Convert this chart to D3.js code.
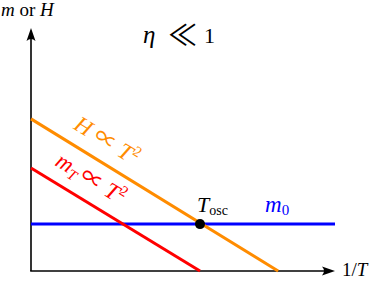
<!DOCTYPE html>
<html><head><meta charset="utf-8">
<script src="https://cdn.jsdelivr.net/npm/d3@7"></script>
<style>html,body{margin:0;padding:0;background:#fff;}svg{display:block;}</style>
</head><body>
<script>
// Data (schematic units: x = 1/T, y = m or H)
const xDomain = [0, 10];
const yDomain = [0, 10];
const hubbleLine = [[0, 6.26], [8.13, 0]];     // H ∝ T^2
const thermalMassLine = [[0, 4.24], [5.56, 0]]; // m_T ∝ T^2
const bareMassLine = [[0, 1.93], [10, 1.93]];  // m_0
const oscPoint = [5.56, 1.93];                 // T_osc

const W = 374, H = 285;
const svg = d3.select("body").append("svg").attr("width", W).attr("height", H);
const x = d3.scaleLinear().domain(xDomain).range([31, 335]);
const y = d3.scaleLinear().domain(yDomain).range([271, 28]);
const line = d3.line().x(d => x(d[0])).y(d => y(d[1]));
const serif = "'Liberation Serif','DejaVu Serif',serif";
const sym = "'Noto Sans CJK JP','DejaVu Serif',serif";

// axes
svg.append("line").attr("x1", x(0)).attr("y1", y(0)).attr("x2", x(0)).attr("y2", y(10) + 6)
  .attr("stroke", "#000").attr("stroke-width", 1.6);
svg.append("line").attr("x1", x(0) - 0.8).attr("y1", y(0)).attr("x2", x(10) - 6).attr("y2", y(0))
  .attr("stroke", "#000").attr("stroke-width", 1.6);
const ax = x(0), ay = y(10);
svg.append("path").attr("d", `M${ax},${ay} L${ax-4.5},${ay+13} Q${ax},${ay+9} ${ax+4.5},${ay+13} Z`).attr("fill", "#000");
const bx = x(10), by = y(0);
svg.append("path").attr("d", `M${bx},${by} L${bx-13},${by-4.5} Q${bx-9},${by} ${bx-13},${by+4.5} Z`).attr("fill", "#000");

// lines
svg.append("path").attr("d", line(bareMassLine)).attr("stroke", "#0000ff").attr("stroke-width", 3).attr("fill", "none");
svg.append("path").attr("d", line(thermalMassLine)).attr("stroke", "#ff0000").attr("stroke-width", 3).attr("fill", "none");
svg.append("path").attr("d", line(hubbleLine)).attr("stroke", "#ff8c00").attr("stroke-width", 3).attr("fill", "none");
svg.append("circle").attr("cx", x(oscPoint[0])).attr("cy", y(oscPoint[1])).attr("r", 5).attr("fill", "#000");

const ang = l => Math.atan2(y(l[1][1]) - y(l[0][1]), x(l[1][0]) - x(l[0][0])) * 180 / Math.PI;

const tH = svg.append("text").attr("transform", `translate(103,147) rotate(${ang(hubbleLine)})`)
  .attr("text-anchor", "middle").attr("fill", "#ff8c00")
  .attr("font-family", serif).attr("font-size", 23);
tH.append("tspan").attr("font-style", "italic").text("H ");
tH.append("tspan").attr("font-family", sym).attr("font-size", 23).text("∝");
tH.append("tspan").attr("font-style", "italic").text(" T");
tH.append("tspan").attr("font-size", 15).attr("dy", "-0.6em").text("2");

const tM = svg.append("text").attr("transform", `translate(87,185) rotate(${ang(thermalMassLine)})`)
  .attr("text-anchor", "middle").attr("fill", "#ff0000")
  .attr("font-family", serif).attr("font-size", 23);
tM.append("tspan").attr("font-style", "italic").text("m");
tM.append("tspan").attr("font-style", "italic").attr("font-size", 15).attr("dy", 4).text("T ");
tM.append("tspan").attr("font-family", sym).attr("font-size", 23).attr("dy", -4).text("∝");
tM.append("tspan").attr("font-style", "italic").text(" T");
tM.append("tspan").attr("font-size", 15).attr("dy", "-0.6em").text("2");

const tO = svg.append("text").attr("x", 197).attr("y", 212).attr("font-family", serif).attr("font-size", 22);
tO.append("tspan").attr("font-style", "italic").text("T");
tO.append("tspan").attr("font-size", 14).attr("dy", "3").text("osc");

const t0 = svg.append("text").attr("x", 265).attr("y", 212).attr("font-family", serif).attr("font-size", 23).attr("fill", "#0000ff");
t0.append("tspan").attr("font-style", "italic").text("m");
t0.append("tspan").attr("font-size", 15).attr("dy", "3").text("0");

svg.append("text").attr("x", 143).attr("y", 43).attr("font-family", serif).attr("font-size", 25).attr("font-style", "italic").text("η");
svg.append("text").attr("x", 168).attr("y", 46).attr("font-family", sym).attr("font-size", 29).text("≪");
svg.append("text").attr("x", 204).attr("y", 43).attr("font-family", serif).attr("font-size", 22).text("1");

const tY = svg.append("text").attr("x", 1).attr("y", 16).attr("font-family", serif).attr("font-size", 19);
tY.append("tspan").attr("font-style", "italic").text("m");
tY.append("tspan").text(" or ");
tY.append("tspan").attr("font-style", "italic").text("H");

const tX = svg.append("text").attr("x", 342).attr("y", 276).attr("font-family", serif).attr("font-size", 19);
tX.append("tspan").text("1/");
tX.append("tspan").attr("font-style", "italic").text("T");
</script>
</body></html>
